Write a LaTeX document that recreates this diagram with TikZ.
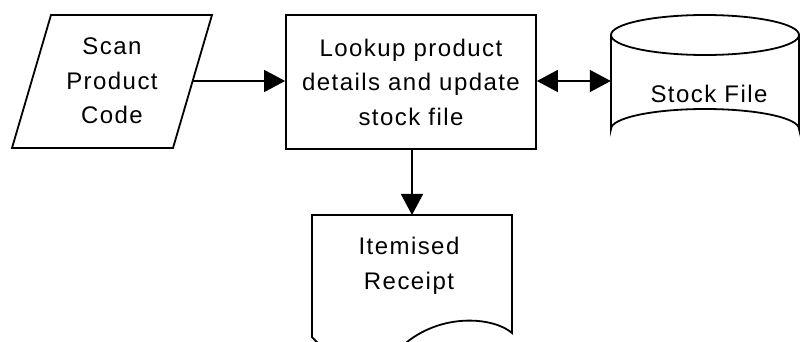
\documentclass[tikz,border=0pt]{standalone}
\usepackage{fontspec}
\setmainfont{Liberation Sans}[LetterSpace=6]
\usetikzlibrary{arrows.meta}

\begin{document}
\begin{tikzpicture}[x=1pt,y=-1pt,
  every node/.style={font=\fontsize{24}{34.5}\selectfont, align=center, inner sep=0pt},
  outline/.style={draw, line width=1.8pt, line join=miter},
  flow/.style={line width=1.6pt, -{Triangle[length=21pt,width=22pt]}},
  both/.style={line width=1.6pt, {Triangle[length=21pt,width=22pt]}-{Triangle[length=21pt,width=22pt]}}]
\useasboundingbox (0,0) rectangle (801,342);
\clip (0,0) rectangle (801,342);

% input: parallelogram
\draw[outline] (51,15) -- (212,15) -- (173,148) -- (12,148) -- cycle;
\node (scan) at (112,81) {Scan\\Product\\Code};
\coordinate (scanout) at (192.5,81);

% process box
\node[outline, rectangle, minimum width=250pt, minimum height=134pt]
  (lookup) at (411,82) {Lookup product\\details and update\\stock file};

% stored data: cylinder
\draw[outline] (611,35) -- (611,129)
  arc[start angle=180, end angle=360, x radius=94, y radius=20]
  -- (799,35);
\draw[outline] (705,35) ellipse [x radius=94, y radius=20];
\node[minimum width=188pt, minimum height=134pt] (stock) at (705,81) {};
\node (stocktext) at (709,94) {Stock File};

% output: document with wavy bottom edge
\draw[outline] (312,215) -- (512,215) -- (512,333)
  .. controls (495,318) and (445,312) .. (407,342)
  .. controls (385,362) and (330,360) .. (312,337) -- cycle;
\node[minimum width=200pt, minimum height=130pt, anchor=north] (receipt) at (412,215) {};
\node (receipttext) at (409,266) {Itemised\\Receipt};

% connectors
\draw[flow] (scanout) -- (scanout -| lookup.west);
\draw[both] (lookup.east |- stock.west) -- (stock.west);
\draw[flow] (lookup.south -| receipt.north) -- (receipt.north);
\end{tikzpicture}
\end{document}
